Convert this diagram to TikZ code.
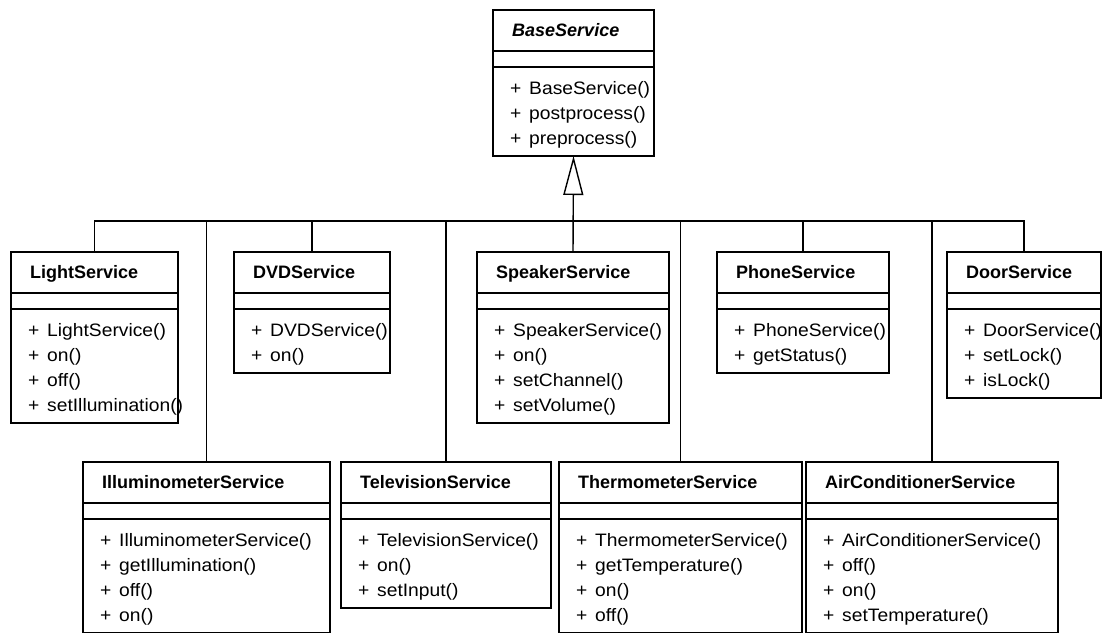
\documentclass[tikz,border=0pt]{standalone}
\usepackage{fontspec}
\setmainfont{Liberation Sans}
\newfontfamily\opfont[FakeStretch=1.07]{Liberation Sans}
\usetikzlibrary{arrows.meta}

% UML class: name, left x, top y, width, height, title, operations
\newcommand{\umlclass}[7]{%
  \node[classbox, minimum width=#4pt, minimum height=#5pt, anchor=north west] (#1) at (#2,#3) {};
  \draw[umlline] ([yshift=-41pt]#1.north west) -- ([yshift=-41pt]#1.north east);
  \draw[umlline] ([yshift=-57pt]#1.north west) -- ([yshift=-57pt]#1.north east);
  \node[titletext] (#1-title) at ([xshift=19pt,yshift=-26pt]#1.north west) {#6};
  \foreach \op [count=\i] in {#7} {
    \node[optext] (#1-op\i) at ([xshift=17pt,yshift={-84pt-(\i-1)*25pt}]#1.north west)
      {\makebox[19pt][l]{+}\op};
  }%
}

\begin{document}
\begin{tikzpicture}[x=1pt, y=-1pt,
  umlline/.style={draw=black, line width=1.4pt},
  classbox/.style={umlline, fill=white, rectangle, inner sep=0pt, outer sep=0pt},
  titletext/.style={anchor=base west, inner sep=0pt, font=\fontsize{18}{20}\selectfont\bfseries},
  optext/.style={anchor=base west, inner sep=0pt, font=\opfont\fontsize{18}{20}\selectfont},
  generalization/.style={umlline, -{Triangle[open, length=39pt, width=20pt]}}]
  \useasboundingbox (0,0) rectangle (1102,632);
  \clip (0,0) rectangle (1102,632);

  % abstract base class
  \umlclass{base}{493}{10}{161}{146}{\itshape BaseService}{BaseService(), postprocess(), preprocess()}

  % upper row of subclasses
  \umlclass{light}{11}{252}{167}{171}{LightService}{LightService(), on(), off(), setIllumination()}
  \umlclass{dvd}{234}{252}{156}{121}{DVDService}{DVDService(), on()}
  \umlclass{speaker}{477}{252}{192}{171}{SpeakerService}{SpeakerService(), on(), setChannel(), setVolume()}
  \umlclass{phone}{717}{252}{172}{121}{PhoneService}{PhoneService(), getStatus()}
  \umlclass{door}{947}{252}{154}{146}{DoorService}{DoorService(), setLock(), isLock()}

  % lower row of subclasses
  \umlclass{illum}{83}{462}{247}{171}{IlluminometerService}{IlluminometerService(), getIllumination(), off(), on()}
  \umlclass{tv}{341}{462}{210}{146}{TelevisionService}{TelevisionService(), on(), setInput()}
  \umlclass{thermo}{559}{462}{243}{171}{ThermometerService}{ThermometerService(), getTemperature(), on(), off()}
  \umlclass{aircon}{806}{462}{252}{171}{AirConditionerService}{AirConditionerService(), off(), on(), setTemperature()}

  % shared inheritance bus
  \coordinate (bus) at (0,221);
  \draw[umlline] (light.north) -- (light.north |- bus) -- (door.north |- bus) -- (door.north);
  \foreach \c in {dvd, phone, illum, tv, thermo, aircon}
    \draw[umlline] (\c.north) -- (\c.north |- bus);
  \draw[generalization] (speaker.north) -- (base.south);
\end{tikzpicture}
\end{document}
